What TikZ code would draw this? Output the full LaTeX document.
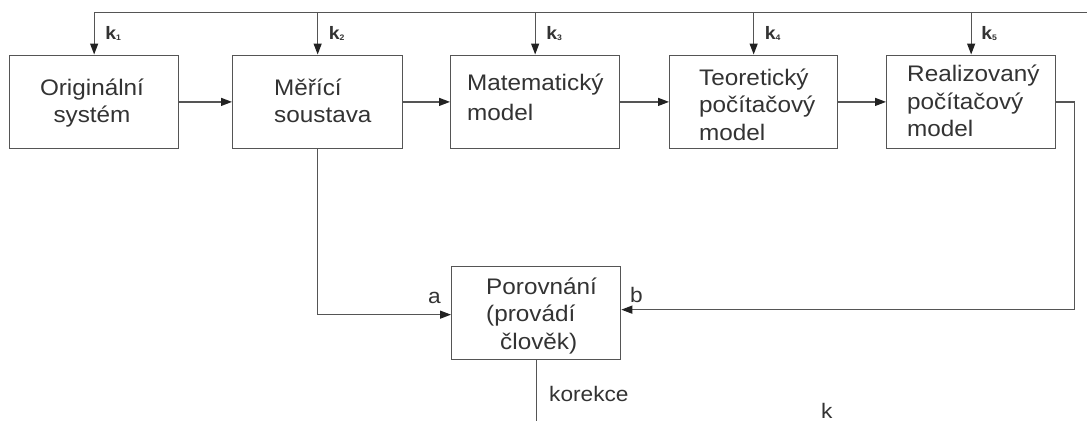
\documentclass[tikz,border=0pt]{standalone}
\usepackage{fontspec}
\setmainfont{Liberation Sans}[FakeStretch=1.08]
\usetikzlibrary{arrows.meta}
\definecolor{ln}{HTML}{555555}
\definecolor{tx}{HTML}{333333}
\definecolor{tip}{HTML}{222222}
\newcommand\mylines[2][l]{\begin{tabular}[t]{@{}#1@{}}#2\end{tabular}}
\newcommand\ksub[1]{k\raisebox{-1.5pt}{\fontsize{8}{8}\selectfont #1}}
\begin{document}
\begin{tikzpicture}[x=1pt,y=-1pt,
  box/.style={draw=ln, line width=1.3pt, minimum width=169pt, minimum height=93.5pt, inner sep=0pt, anchor=north west},
  btext/.style={text=tx, font=\fontsize{22.5}{27.5}\selectfont, inner sep=0pt, anchor=base west},
  klab/.style={text=tx, font=\fontsize{18}{20}\selectfont\bfseries, inner sep=0pt, anchor=base west},
  lab/.style={text=tx, font=\fontsize{21}{24}\selectfont, inner sep=0pt, anchor=base west},
  conn/.style={draw=ln, line width=1.3pt},
  arr/.style={conn, -{Triangle[length=11pt,width=8pt,color=tip]}}]
\useasboundingbox (0,0) rectangle (1087,421);
\fill[white] (0,0) rectangle (1087,421);

% boxes
\node[box] (b1) at (9,54.5) {};
\node[box, minimum width=170pt] (b2) at (232,54.5) {};
\node[box] (b3) at (450,54.5) {};
\node[box, minimum width=168pt] (b4) at (669,54.5) {};
\node[box] (b5) at (886,54.5) {};
\node[box, minimum height=93pt] (P) at (451,266) {};

% box texts
\node[btext, anchor=base] (t1) at (92,95) {\mylines[c]{Originální\\systém}};
\node[btext] (t2) at (274,95) {\mylines{Měřící\\soustava}};
\node[btext] (t3) at (467,90) {\mylines{Matematický\\[2.5pt]model}};
\node[btext] (t4) at (699,85) {\mylines{Teoretický\\počítačový\\model}};
\node[btext] (t5) at (907,81.7) {\mylines{Realizovaný\\počítačový\\model}};
\node[btext] (tP) at (486,294) {\mylines{Porovnání\\(provádí\\\hspace*{14pt}člověk)}};

% top feedback line
\coordinate (topR) at (1087,12.5);
\draw[arr] (topR) -| (b1.north);
\draw[arr] (b2.north |- topR) -- (b2.north);
\draw[arr] (b3.north |- topR) -- (b3.north);
\draw[arr] (b4.north |- topR) -- (b4.north);
\draw[arr] (b5.north |- topR) -- (b5.north);

% k labels
\node[klab, xshift=11pt] (k1) at (b1.north |- 0,39) {\ksub{1}};
\node[klab, xshift=11pt] (k2) at (b2.north |- 0,39) {\ksub{2}};
\node[klab, xshift=11pt] (k3) at (b3.north |- 0,39) {\ksub{3}};
\node[klab, xshift=11pt] (k4) at (b4.north |- 0,39) {\ksub{4}};
\node[klab, xshift=10pt] (k5) at (b5.north |- 0,39) {\ksub{5}};

% chain
\draw[arr] (b1.east) -- (b2.west);
\draw[arr] (b2.east) -- (b3.west);
\draw[arr] (b3.east) -- (b4.west);
\draw[arr] (b4.east) -- (b5.west);

% to comparison
\draw[arr] (b2.south) |- ([yshift=-1.5pt]P.west);
\draw[arr] (b5.east) -- ++(18,0) |- ([yshift=3.5pt]P.east);
\coordinate (kor) at (P.south |- 0,421);
\draw[conn] (P.south) -- (kor);

% labels
\node[lab] (la) at (428,303) {a};
\node[lab] (lb) at (630,302) {b};
\node[lab] (lkor) at (549,401.5) {korekce};
\node[lab] (lk) at (821,418) {k};
\end{tikzpicture}
\end{document}
